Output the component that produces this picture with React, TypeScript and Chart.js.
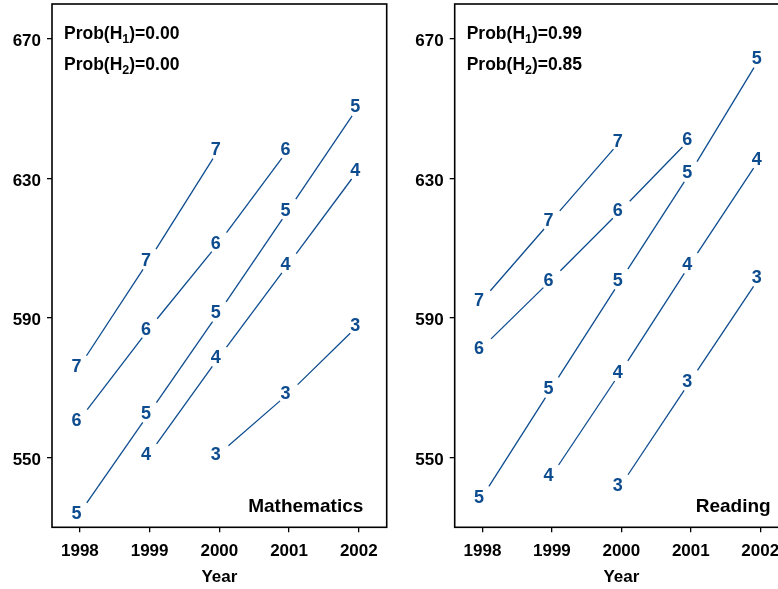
import React, { useEffect, useRef } from 'react';
import { Chart, registerables } from 'chart.js';

Chart.register(...registerables);

// ---------- data ----------
const years = [1998, 1999, 2000, 2001, 2002];
const gradeLabels = ['7', '6', '5', '4', '3'];
const yTickValues = [550, 590, 630, 670];

const mathGrade7 = [576.3, 606.8, 638.6, null, null];
const mathGrade6 = [561.0, 587.1, 611.7, 638.6, null];
const mathGrade5 = [534.2, 562.9, 591.8, 621.2, 650.8];
const mathGrade4 = [null, 551.1, 578.9, 605.7, 632.6];
const mathGrade3 = [null, null, 551.1, 568.5, 588.0];

const readGrade7 = [595.2, 618.1, 641.0, null, null];
const readGrade6 = [581.6, 601.1, 621.0, 641.5, null];
const readGrade5 = [538.8, 570.1, 601.1, 631.9, 664.7];
const readGrade4 = [null, 545.0, 574.8, 605.7, 635.8];
const readGrade3 = [null, null, 542.2, 572.1, 601.9];

const mathProb = ['0.00', '0.00'];
const readProb = ['0.99', '0.85'];

const BLUE = '#0d4c8f';
const FONT = '"Liberation Sans", Arial, Helvetica, sans-serif';

type Panel = {
  title: string;
  series: (number | null)[][];
  probs: string[];
  left: number;
  width: number;
  yAxisWidth: number;
  padRight: number;
  titleInset: number;
};

const panels: Panel[] = [
  {
    title: 'Mathematics',
    series: [mathGrade7, mathGrade6, mathGrade5, mathGrade4, mathGrade3],
    probs: mathProb,
    left: 0,
    width: 390,
    yAxisWidth: 52,
    padRight: 3.3,
    titleInset: 23.4,
  },
  {
    title: 'Reading',
    series: [readGrade7, readGrade6, readGrade5, readGrade4, readGrade3],
    probs: readProb,
    left: 390,
    width: 402,
    yAxisWidth: 64.7,
    padRight: 4,
    titleInset: 17.3,
  },
];

const cohortPlugin = {
  id: 'cohortPlugin',
  afterDatasetsDraw(chart: any, _args: any, opts: any) {
    const ctx: CanvasRenderingContext2D = chart.ctx;
    const area = chart.chartArea;
    ctx.save();

    // frame
    ctx.strokeStyle = '#000';
    ctx.lineWidth = 1.6;
    ctx.strokeRect(area.left, area.top, area.right - area.left, area.bottom - area.top);

    const gap = 12;
    chart.data.datasets.forEach((ds: any, i: number) => {
      const meta = chart.getDatasetMeta(i);
      const pts = meta.data.map((el: any, j: number) =>
        ds.data[j] == null || ds.data[j].y == null ? null : { x: el.x, y: el.y }
      );
      ctx.strokeStyle = BLUE;
      ctx.lineWidth = 1.3;
      for (let j = 0; j < pts.length - 1; j++) {
        const p = pts[j];
        const q = pts[j + 1];
        if (!p || !q) continue;
        const dx = q.x - p.x;
        const dy = q.y - p.y;
        const len = Math.hypot(dx, dy);
        const ux = dx / len;
        const uy = dy / len;
        ctx.beginPath();
        ctx.moveTo(p.x + ux * gap, p.y + uy * gap);
        ctx.lineTo(q.x - ux * gap, q.y - uy * gap);
        ctx.stroke();
      }
      ctx.font = `bold 18px ${FONT}`;
      ctx.fillStyle = BLUE;
      ctx.textAlign = 'center';
      ctx.textBaseline = 'alphabetic';
      const m = ctx.measureText(ds.label);
      const asc = m.actualBoundingBoxAscent;
      const desc = m.actualBoundingBoxDescent;
      pts.forEach((p: any) => {
        if (!p) return;
        ctx.fillText(ds.label, p.x - 3.5, p.y + (asc - desc) / 2);
      });
    });

    // probability annotations
    ctx.fillStyle = '#000';
    ctx.textAlign = 'left';
    ctx.textBaseline = 'alphabetic';
    const probs: string[] = opts.probs || [];
    probs.forEach((val, k) => {
      const baseY = area.top + 34.7 + k * 30.8;
      let x = area.left + 12;
      ctx.font = `bold 17.5px ${FONT}`;
      const a = 'Prob(H';
      ctx.fillText(a, x, baseY);
      x += ctx.measureText(a).width;
      ctx.font = `bold 12.5px ${FONT}`;
      const sub = String(k + 1);
      ctx.fillText(sub, x, baseY + 4);
      x += ctx.measureText(sub).width;
      ctx.font = `bold 17.5px ${FONT}`;
      ctx.fillText(')=' + val, x, baseY);
    });

    // panel title
    ctx.font = `bold 19px ${FONT}`;
    ctx.textAlign = 'right';
    ctx.fillText(opts.title || '', area.right - (opts.titleInset || 20), area.bottom - 15);

    ctx.restore();
  },
};

function PanelChart({ panel }: { panel: Panel }) {
  const ref = useRef<HTMLCanvasElement | null>(null);
  useEffect(() => {
    if (!ref.current) return;
    const tickFont = { family: FONT, size: 17, weight: 'bold' as const };
    const chart = new Chart(ref.current, {
      type: 'line',
      data: {
        datasets: panel.series.map((arr, i) => ({
          label: gradeLabels[i],
          data: years.map((yr, j) => ({ x: yr, y: arr[j] as any })),
          showLine: false,
          pointRadius: 0,
          pointHoverRadius: 0,
          borderColor: BLUE,
          backgroundColor: BLUE,
        })),
      },
      options: {
        responsive: false,
        animation: false,
        events: [],
        layout: { padding: { top: 4, right: panel.padRight, left: 0, bottom: 0 } },
        plugins: {
          legend: { display: false },
          tooltip: { enabled: false },
          cohortPlugin: { probs: panel.probs, title: panel.title, titleInset: panel.titleInset },
        } as any,
        scales: {
          x: {
            type: 'linear',
            min: 1997.6,
            max: 2002.4,
            afterBuildTicks: (s: any) => {
              s.ticks = years.map((v) => ({ value: v }));
            },
            afterFit: (s: any) => {
              s.height = 61.7;
              s.paddingLeft = 0;
              s.paddingRight = 0;
            },
            ticks: {
              font: tickFont,
              color: '#000',
              padding: 9,
              autoSkip: false,
              maxRotation: 0,
              callback: (v: any) => String(v),
            },
            grid: { display: true, drawOnChartArea: false, drawTicks: true, tickLength: 5, color: '#000', lineWidth: 1.3 },
            border: { display: false },
            title: {
              display: true,
              text: 'Year',
              color: '#000',
              font: { family: FONT, size: 17, weight: 'bold' },
              padding: { top: 0, bottom: 1 },
            },
          },
          y: {
            type: 'linear',
            min: 530,
            max: 680,
            afterBuildTicks: (s: any) => {
              s.ticks = yTickValues.map((v) => ({ value: v }));
            },
            afterFit: (s: any) => {
              s.width = panel.yAxisWidth;
              s.paddingTop = 0;
              s.paddingBottom = 0;
            },
            ticks: {
              font: { family: FONT, size: 17, weight: 'bold', lineHeight: '5px' } as any,
              color: '#000',
              padding: 6,
              // empty first line nudges the label slightly below its tick, as in the original
              callback: (v: any) => ['', String(v)],
            },
            grid: { display: true, drawOnChartArea: false, drawTicks: true, tickLength: 5, color: '#000', lineWidth: 1.3 },
            border: { display: false },
          },
        },
      },
      plugins: [cohortPlugin],
    });
    return () => chart.destroy();
  }, [panel]);

  return (
    <canvas
      ref={ref}
      width={panel.width}
      height={589}
      style={{ position: 'absolute', left: panel.left, top: 0, width: panel.width, height: 589 }}
    />
  );
}

export default function App() {
  return (
    <div
      style={{
        position: 'fixed',
        left: 0,
        top: 0,
        width: 778,
        height: 589,
        overflow: 'hidden',
        background: '#fff',
      }}
    >
      {panels.map((p) => (
        <PanelChart key={p.title} panel={p} />
      ))}
    </div>
  );
}
